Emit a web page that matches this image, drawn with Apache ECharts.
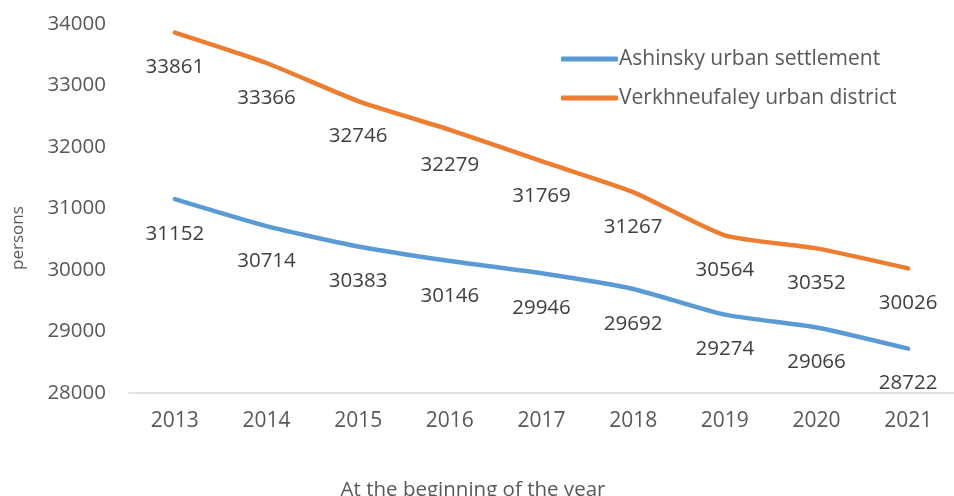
<!DOCTYPE html>
<html>
<head>
<meta charset="utf-8">
<script src="https://cdn.jsdelivr.net/npm/echarts@6/dist/echarts.min.js"></script>
<style>html,body{margin:0;padding:0;background:#fff}#c{width:954px;height:496px}</style>
</head>
<body>
<div id="c"></div>
<script>
const years = ['2013','2014','2015','2016','2017','2018','2019','2020','2021'];
const ashinsky = [31152, 30714, 30383, 30146, 29946, 29692, 29274, 29066, 28722];
const verkhneufaley = [33861, 33366, 32746, 32279, 31769, 31267, 30564, 30352, 30026];
const seriesNames = ['Ashinsky urban settlement', 'Verkhneufaley urban district'];
const yTicks = {min: 28000, max: 34000, step: 1000};
const xTitle = 'At the beginning of the year';
const yTitle = 'persons';

const FONT = '"Open Sans", sans-serif';
const chart = echarts.init(document.getElementById('c'), null, {renderer: 'canvas'});
const labelCfg = {
  show: true, position: 'inside', offset: [0, 35],
  color: '#404040', fontSize: 20.5, fontFamily: FONT
};
function mkSeries(name, data, color) {
  return {
    name: name, type: 'line', data: data, smooth: 0.2,
    symbol: 'circle', symbolSize: 1, showSymbol: true,
    lineStyle: {color: color, width: 4.5, cap: 'round', join: 'round'},
    itemStyle: {color: color},
    label: labelCfg,
    emphasis: {disabled: true}
  };
}
chart.setOption({
  animation: false,
  backgroundColor: '#fff',
  grid: {left: 129, width: 830, top: 24, height: 369},
  legend: {
    orient: 'vertical', left: 556, top: 43, itemGap: 17,
    itemWidth: 57, itemHeight: 5,
    icon: 'roundRect',
    textStyle: {color: '#595959', fontSize: 21, fontFamily: FONT, lineHeight: 22, padding: [0,0,0,-4]},
    data: [
      {name: seriesNames[0], itemStyle: {color: '#5B9BD5'}},
      {name: seriesNames[1], itemStyle: {color: '#ED7D31'}}
    ]
  },
  xAxis: {
    type: 'category', data: years, boundaryGap: true,
    axisLine: {show: true, lineStyle: {color: '#D9D9D9', width: 1.5}},
    axisTick: {show: false},
    axisLabel: {color: '#595959', fontSize: 21, fontFamily: FONT, margin: 18}
  },
  yAxis: {
    type: 'value', min: yTicks.min, max: yTicks.max, interval: yTicks.step,
    axisLine: {show: false}, axisTick: {show: false}, splitLine: {show: false},
    axisLabel: {color: '#595959', fontSize: 20.5, fontFamily: FONT, margin: 23, formatter: v => String(v)}
  },
  graphic: [
    {type: 'text', x: 473, y: 490, style: {text: xTitle, fill: '#595959', fontSize: 20.5, fontFamily: FONT, align: 'center', verticalAlign: 'middle'}},
    {type: 'text', x: 18, y: 238, rotation: Math.PI/2, style: {text: yTitle, fill: '#595959', fontSize: 17, fontFamily: FONT, align: 'center', verticalAlign: 'middle'}}
  ],
  series: [
    mkSeries(seriesNames[0], ashinsky, '#5B9BD5'),
    mkSeries(seriesNames[1], verkhneufaley, '#ED7D31')
  ]
});
</script>
</body>
</html>
